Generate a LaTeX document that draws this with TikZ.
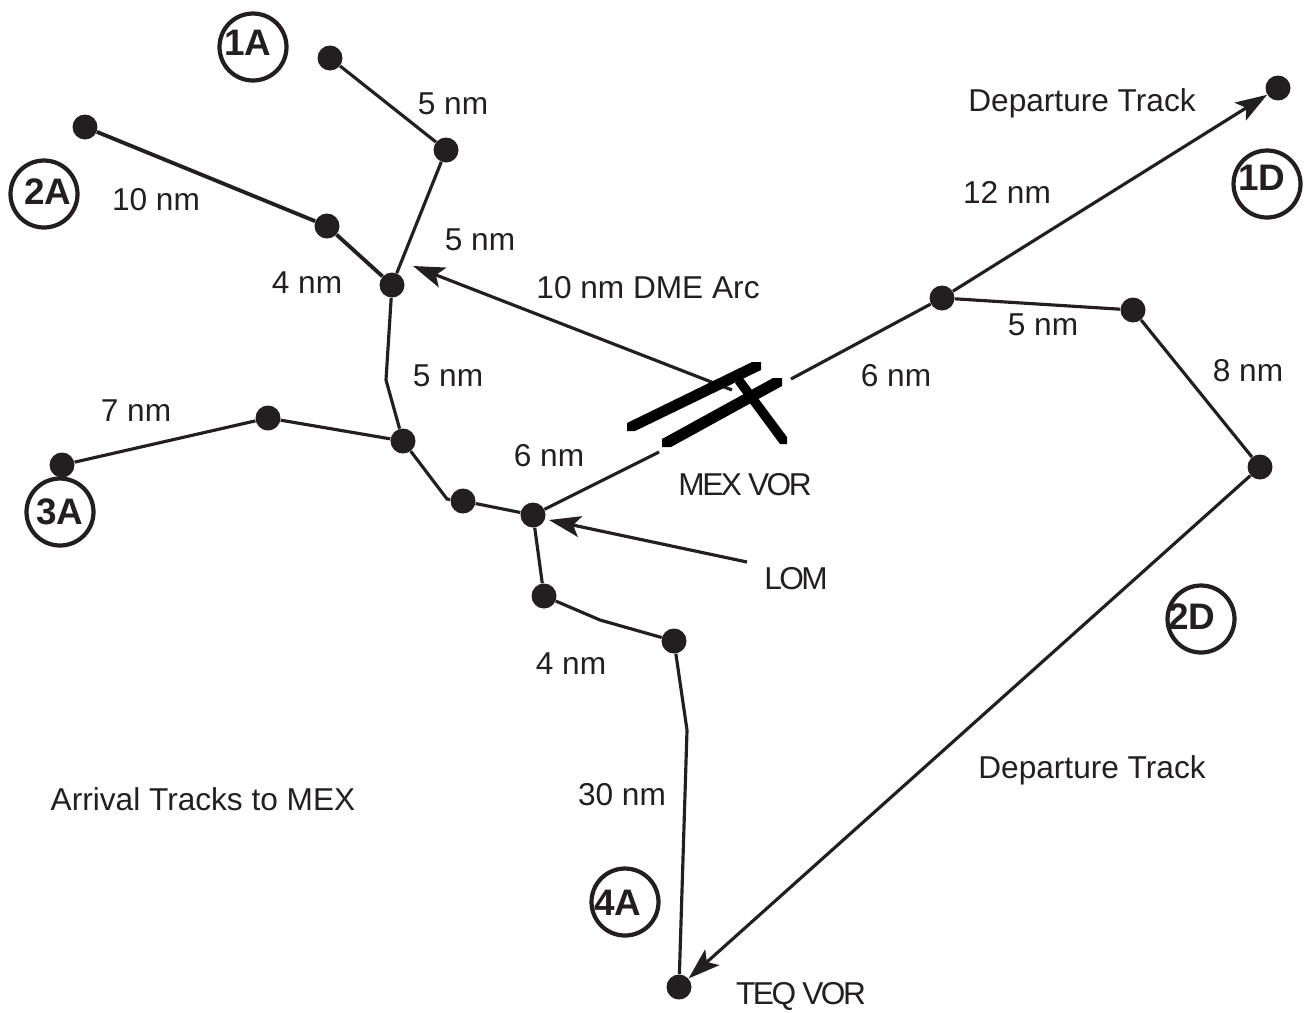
\documentclass[tikz,border=0pt]{standalone}
\usepackage{fontspec}
\setmainfont{Liberation Sans}
\newfontfamily\tightfont[LetterSpace=-8]{Liberation Sans}
\usetikzlibrary{arrows.meta}
\definecolor{ink}{HTML}{231F20}

\begin{document}
\begin{tikzpicture}[x=0.02cm,y=-0.02cm,>={Stealth[length=18pt,width=12pt,inset=4pt]},
  wp/.style={circle,fill=ink,inner sep=0pt,minimum size=0.5cm},
  trk/.style={draw=ink,line width=1.8pt},
  tag/.style={circle,draw=ink,line width=2.4pt,minimum size=1.34cm,inner sep=0pt},
  tagtxt/.style={font=\fontsize{21}{21}\selectfont\bfseries,text=ink,inner sep=0pt},
  lbl/.style={font=\fontsize{18}{18}\selectfont,text=ink,inner sep=0pt},
  tlbl/.style={font=\fontsize{18}{18}\selectfont\tightfont,text=ink,inner sep=0pt}]
  \useasboundingbox (0,0) rectangle (1304,1012);
  % waypoints
  \node[wp] (a1) at (330,58) {};
  \node[wp] (b1) at (446,150) {};
  \node[wp] (e2) at (85,127) {};
  \node[wp] (d2) at (327,226) {};
  \node[wp] (c) at (392,285) {};
  \node[wp] (f) at (403,441) {};
  \node[wp] (g3) at (268,418) {};
  \node[wp] (h3) at (62,465) {};
  \node[wp] (i) at (463,501) {};
  \node[wp] (lom) at (533,515) {};
  \node[wp] (j4) at (544,596) {};
  \node[wp] (k4) at (674,641) {};
  \node[wp] (teq) at (679,987) {};
  \node[wp] (m) at (942,298) {};
  \node[wp] (n) at (1133,310) {};
  \node[wp] (o) at (1260,467) {};
  \node[wp] (dep) at (1278,88) {};
  \coordinate (cbend) at (386,380);
  \coordinate (fbend) at (447,499);
  \coordinate (jbend) at (600,620);
  \coordinate (kbend) at (687,730);
  \coordinate (rwyw) at (659,452);
  \coordinate (rwye) at (791,379);
  \coordinate (arcst) at (732,390);
  \coordinate (arcend) at (413,266);
  \coordinate (lomst) at (747,562);
  \coordinate (lomend) at (549,520);
  % tracks
  \draw[trk] (a1)--(b1)--(c);
  \draw[trk,line width=2.2pt] (e2)--(d2)--(c);
  \draw[trk] (c)--(cbend)--(f)--(fbend)--(i)--(lom)--(rwyw);
  \draw[trk] (h3)--(g3)--(f);
  \draw[trk] (lom)--(j4)--(jbend)--(k4)--(kbend)--(teq);
  \draw[trk] (rwye)--(m);
  \draw[trk] (m)--(n)--(o);
  \draw[trk,->] (m)--(dep);
  \draw[trk,->] (o)--(teq);
  \draw[trk,->] (arcst)--(arcend);
  \draw[trk,->] (lomst)--(lomend);
  % runways
  \fill[black] (627,423)--(752,362)--(761,362)--(761,370)--(635,431)--(627,431)--cycle;
  \fill[black] (662,439)--(773,378)--(782,378)--(782,386)--(671,447)--(662,447)--cycle;
  \fill[black] (735,383)--(743,378)--(787,437)--(787,444)--(780,444)--cycle;
  % route tags
  \node[tag] (t1a) at (253,47) {};
  \node[tagtxt] (l1a) at (248,43) {1A};
  \node[tag] (t2a) at (44,194) {};
  \node[tagtxt] (l2a) at (48,192) {2A};
  \node[tag] (t3a) at (60,512) {};
  \node[tagtxt] (l3a) at (60,512) {3A};
  \node[tag] (t4a) at (625,902) {};
  \node[tagtxt] (l4a) at (618,903) {4A};
  \node[tag] (t1d) at (1267,184) {};
  \node[tagtxt] (l1d) at (1262,178) {1D};
  \node[tag] (t2d) at (1201,619) {};
  \node[tagtxt] (l2d) at (1192,617) {2D};
  % labels
  \node[lbl] (n1) at (453,104) {5 nm};
  \node[lbl] (n2) at (156,200) {10 nm};
  \node[lbl] (n3) at (480,240) {5 nm};
  \node[lbl] (n4) at (307,283) {4 nm};
  \node[lbl] (n5) at (648,288) {10 nm DME Arc};
  \node[lbl] (n6) at (448,376) {5 nm};
  \node[lbl] (n7) at (136,411) {7 nm};
  \node[lbl] (n8) at (549,456) {6 nm};
  \node[lbl] (n9) at (571,664) {4 nm};
  \node[lbl] (n10) at (622,795) {30 nm};
  \node[lbl] (n11) at (203,799) {Arrival Tracks to MEX};
  \node[lbl] (n12) at (1082,103) {Departure Track};
  \node[lbl] (n13) at (1007,192) {12 nm};
  \node[lbl] (n14) at (1043,325) {5 nm};
  \node[lbl] (n15) at (896,376) {6 nm};
  \node[lbl] (n16) at (1248,371) {8 nm};
  \node[lbl] (n17) at (1092,770) {Departure Track};
  \node[tlbl] (vor) at (745,485) {MEX VOR};
  \node[tlbl] (lomtxt) at (796,579) {LOM};
  \node[tlbl] (teqtxt) at (801,996) {TEQ VOR};
\end{tikzpicture}
\end{document}
